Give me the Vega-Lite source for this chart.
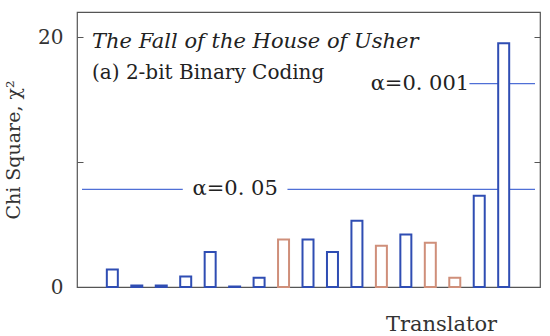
{
  "$schema": "https://vega.github.io/schema/vega-lite/v6.json",
  "width": 463,
  "height": 275,
  "autosize": {"type": "none"},
  "padding": {"left": 77, "top": 12, "right": 10, "bottom": 49},
  "background": "white",
  "config": {
    "view": {"stroke": "#555", "strokeWidth": 1.2},
    "font": "DejaVu Serif"
  },
  "title": {
    "text": "The Fall of the House of Usher",
    "subtitle": "(a) 2-bit Binary Coding",
    "anchor": "start",
    "frame": "group",
    "orient": "top",
    "offset": -71,
    "dx": 15,
    "font": "DejaVu Serif",
    "fontStyle": "italic",
    "fontWeight": "normal",
    "fontSize": 21,
    "color": "#222",
    "subtitleFont": "DejaVu Serif",
    "subtitleFontSize": 20,
    "subtitleColor": "#222",
    "subtitlePadding": 11
  },
  "datasets": {
    "bars": [
      {"translator": 1, "chi2": 1.4, "group": "1"},
      {"translator": 2, "chi2": 0.12, "group": "1"},
      {"translator": 3, "chi2": 0.12, "group": "1"},
      {"translator": 4, "chi2": 0.85, "group": "1"},
      {"translator": 5, "chi2": 2.8, "group": "1"},
      {"translator": 6, "chi2": 0.04, "group": "1"},
      {"translator": 7, "chi2": 0.75, "group": "1"},
      {"translator": 8, "chi2": 3.8, "group": "2"},
      {"translator": 9, "chi2": 3.8, "group": "1"},
      {"translator": 10, "chi2": 2.8, "group": "1"},
      {"translator": 11, "chi2": 5.3, "group": "1"},
      {"translator": 12, "chi2": 3.3, "group": "2"},
      {"translator": 13, "chi2": 4.2, "group": "1"},
      {"translator": 14, "chi2": 3.55, "group": "2"},
      {"translator": 15, "chi2": 0.75, "group": "2"},
      {"translator": 16, "chi2": 7.3, "group": "1"},
      {"translator": 17, "chi2": 19.5, "group": "1"}
    ],
    "lines": [
      {"alpha": "0.05", "value": 7.81, "from": -0.24, "to": 3.88},
      {"alpha": "0.05", "value": 7.81, "from": 8.16, "to": 18.28},
      {"alpha": "0.001", "value": 16.27, "from": 15.6, "to": 18.28}
    ],
    "labels": [
      {"label": "α=0. 05", "x": 4.28, "y": 7.81},
      {"label": "α=0. 001", "x": 11.56, "y": 16.27}
    ]
  },
  "layer": [
    {
      "data": {"name": "lines"},
      "mark": {"type": "rule", "color": "#4f6fd6", "strokeWidth": 1.2},
      "encoding": {
        "x": {
          "field": "from",
          "type": "quantitative",
          "scale": {"domain": [-0.24, 18.28], "nice": false, "zero": false},
          "axis": {
            "title": "Translator",
            "labels": false,
            "ticks": false,
            "domain": false,
            "grid": false,
            "titleFont": "DejaVu Serif",
            "titleFontSize": 21,
            "titleFontWeight": "normal",
            "titleColor": "#333",
            "titleX": 364,
            "titleY": 43,
            "titleBaseline": "alphabetic"
          }
        },
        "x2": {"field": "to"},
        "y": {
          "field": "value",
          "type": "quantitative",
          "scale": {"domain": [0, 22], "nice": false},
          "axis": {
            "values": [0, 10, 20],
            "labelExpr": "datum.value == 10 ? '' : datum.label",
            "tickSize": -6,
            "tickColor": "#555",
            "labelPadding": 20,
            "domain": false,
            "grid": false,
            "labelFont": "DejaVu Serif",
            "labelFontSize": 20,
            "labelColor": "#333",
            "title": "Chi Square, χ²",
            "titleFont": "DejaVu Serif",
            "titleFontSize": 19,
            "titleFontWeight": "normal",
            "titleColor": "#333",
            "titlePadding": 14
          }
        }
      }
    },
    {
      "data": {"name": "bars"},
      "mark": {"type": "bar", "fill": "white", "strokeWidth": 2, "size": 11},
      "encoding": {
        "x": {"field": "translator", "type": "quantitative"},
        "y": {
          "field": "chi2",
          "type": "quantitative",
          "axis": {
            "orient": "right",
            "values": [10, 20],
            "labels": false,
            "tickSize": -6,
            "tickColor": "#555",
            "domain": false,
            "grid": false,
            "title": null
          }
        },
        "stroke": {
          "field": "group",
          "type": "nominal",
          "scale": {"domain": ["1", "2"], "range": ["#2f4db3", "#cf8f7a"]},
          "legend": null
        }
      }
    },
    {
      "data": {"name": "labels"},
      "mark": {"type": "text", "align": "left", "baseline": "middle", "fontSize": 21, "font": "DejaVu Serif", "color": "#222"},
      "encoding": {
        "x": {"field": "x", "type": "quantitative"},
        "y": {"field": "y", "type": "quantitative", "axis": null},
        "text": {"field": "label"}
      }
    }
  ],
  "resolve": {"axis": {"y": "independent"}}
}
